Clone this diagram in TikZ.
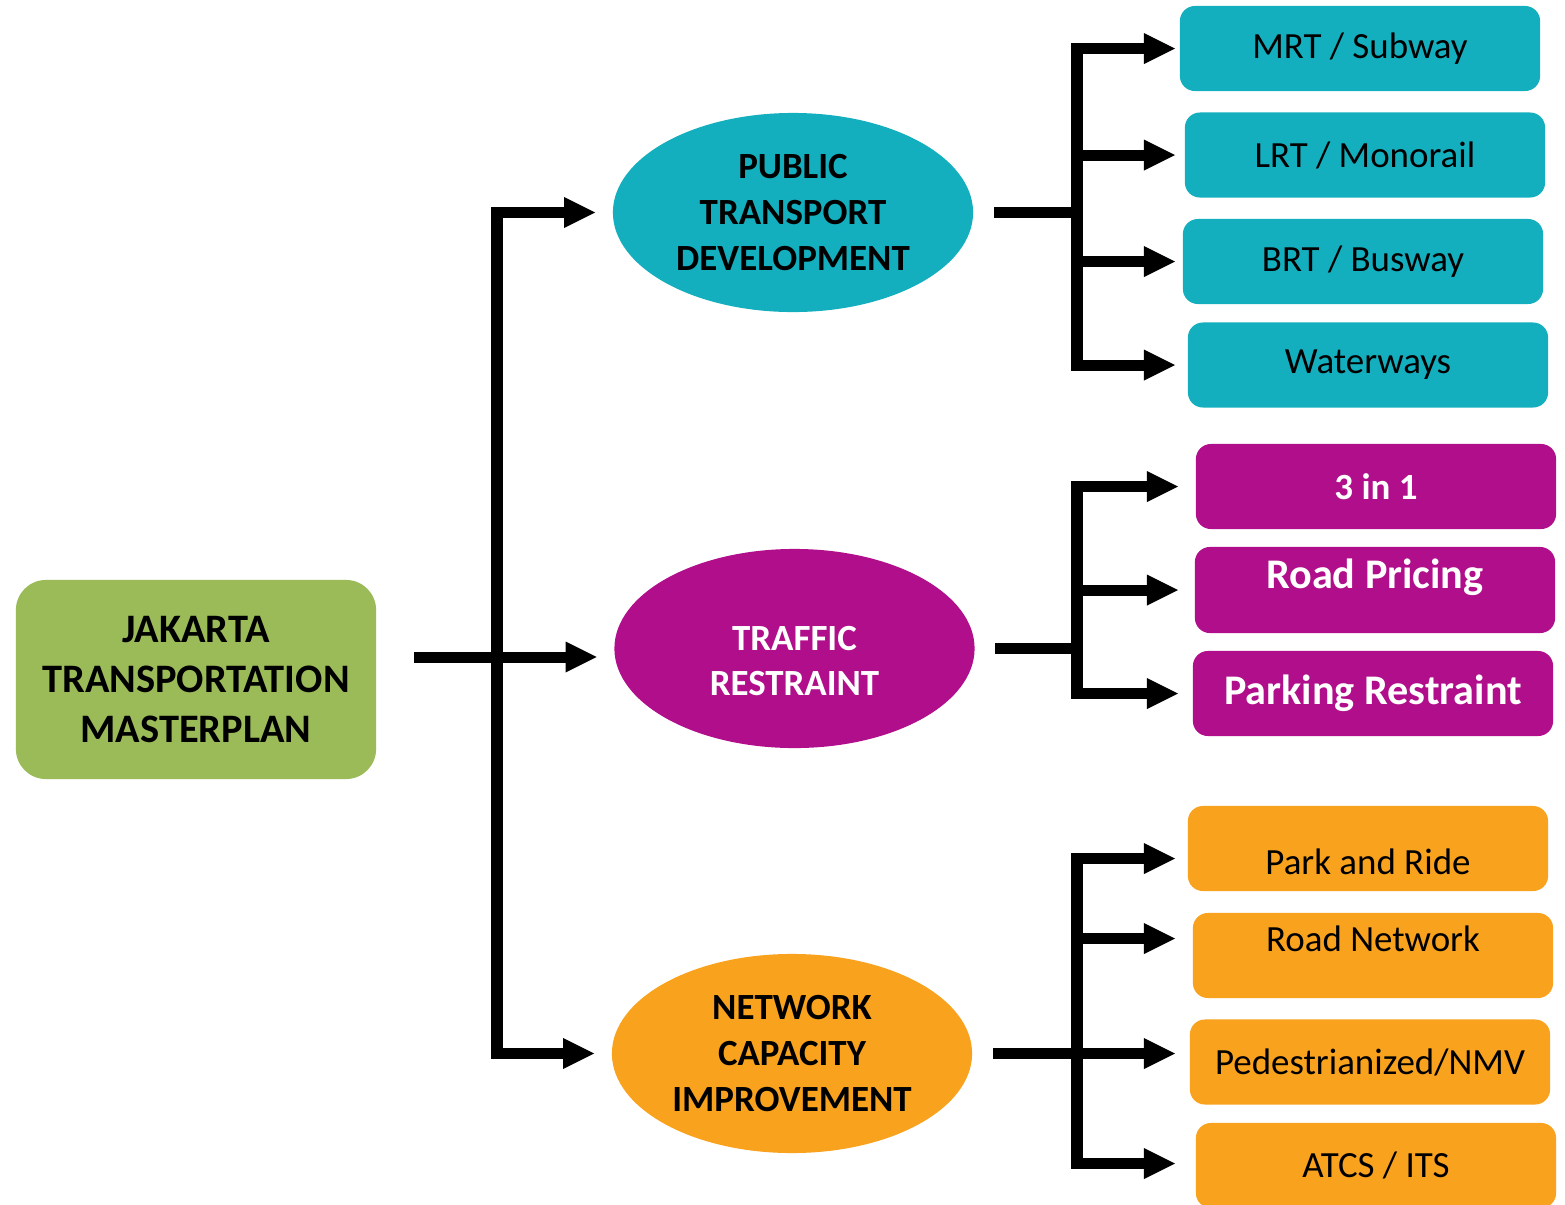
\documentclass[tikz,border=0pt]{standalone}
\usepackage{fontspec}
\setmainfont{Carlito}
\usepackage{tikz}
\usetikzlibrary{shapes.geometric, arrows.meta, positioning}

\definecolor{ptteal}{HTML}{14AFBE}
\definecolor{trmagenta}{HTML}{B00E8B}
\definecolor{ncorange}{HTML}{F8A21E}
\definecolor{jtmgreen}{HTML}{9BBB59}

\begin{document}
\begin{tikzpicture}[
        x=0.01cm, y=-0.01cm,
        root/.style={
            rectangle,
            fill=jtmgreen,
            rounded corners=0.3cm,
            minimum width=3.6cm,
            minimum height=1.99cm,
            align=center,
            font=\fontsize{11.5}{14.3}\selectfont\bfseries
        },
        theme/.style={
            ellipse,
            minimum width=3.6cm,
            minimum height=1.99cm,
            inner sep=0pt,
            align=center,
            font=\fontsize{10.5}{13}\selectfont\bfseries
        },
        item/.style={
            rectangle,
            rounded corners=0.15cm,
            minimum width=3.6cm,
            minimum height=0.85cm,
            align=center,
            font=\fontsize{10.5}{12.6}\selectfont
        },
        bar/.style={line width=0.11cm, draw=black},
        arrow/.style={bar, -{Triangle[length=0.31cm, width=0.31cm, line width=0pt]}}
    ]

    \useasboundingbox (0,0) rectangle (1565,1205);

    % root and the three themes
    \node (jtm) [root] at (196,679.5) {JAKARTA\\TRANSPORTATION\\MASTERPLAN};
    \node (pt) [theme, fill=ptteal] at (793,212.5) {PUBLIC\\TRANSPORT\\DEVELOPMENT};
    \node (tr) [theme, fill=trmagenta, text=white, text height=0.95cm] at (794.5,648.5) {TRAFFIC\\RESTRAINT};
    \node (nc) [theme, fill=ncorange] at (792,1053.5) {NETWORK\\CAPACITY\\IMPROVEMENT};

    % public transport
    \node (mrt) [item, fill=ptteal] at (1360,48.5) {MRT / Subway};
    \node (lrt) [item, fill=ptteal] at (1365,155) {LRT / Monorail};
    \node (brt) [item, fill=ptteal] at (1363,261.5) {BRT / Busway};
    \node (wat) [item, fill=ptteal] at (1368,365) {Waterways};

    % traffic restraint
    \node (tio) [item, fill=trmagenta, text=white, font=\fontsize{10.5}{12.6}\selectfont\bfseries] at (1376,486.5) {3 in 1};
    \node (rp) [item, fill=trmagenta, text=white, font=\fontsize{12}{14}\selectfont\bfseries, text depth=0.33cm] at (1375,590) {Road Pricing};
    \node (pkr) [item, fill=trmagenta, text=white, font=\fontsize{12}{14}\selectfont\bfseries] at (1373,693.5) {Parking Restraint};

    % network capacity
    \node (pnr) [item, fill=ncorange, text height=0.52cm] at (1368,848.5) {Park and Ride};
    \node (rn) [item, fill=ncorange, text depth=0.34cm] at (1373,955.5) {Road Network};
    \node (ped) [item, fill=ncorange] at (1370,1062) {Pedestrianized/NMV};
    \node (its) [item, fill=ncorange] at (1376,1165.5) {ATCS / ITS};

    % trunk
    \coordinate (tk) at (497,657);
    \draw [arrow] ([xshift=0.37cm]jtm.east |- tk) -- ([xshift=-0.17cm]tr.west |- tk);
    \draw [arrow] (tk) |- ([xshift=-0.17cm]pt.west);
    \draw [arrow] (tk) |- ([xshift=-0.17cm]nc.west);

    % branches
    \coordinate (ja) at (1077,212.5);
    \coordinate (jb) at (1077,648.5);
    \coordinate (jc) at (1077,1053.5);
    \coordinate (tipa) at (1175,0);
    \coordinate (tipb) at (1178,0);

    \draw [bar] ([xshift=0.2cm]pt.east) -- (ja);
    \foreach \n in {mrt,lrt,brt,wat}
        \draw [arrow] (ja) |- (tipa |- \n.west);

    \draw [bar] ([xshift=0.2cm]tr.east) -- (jb);
    \foreach \n in {tio,rp,pkr}
        \draw [arrow] (jb) |- (tipb |- \n.west);

    \draw [arrow] ([xshift=0.2cm]nc.east) -- (tipa |- nc.east);
    \draw [arrow] (jc) |- ([yshift=-0.1cm]tipa |- pnr.west);
    \draw [arrow] (jc) |- ([yshift=0.17cm]tipa |- rn.west);
    \draw [arrow] (jc) |- ([yshift=0.02cm]tipa |- its.west);

\end{tikzpicture}
\end{document}
